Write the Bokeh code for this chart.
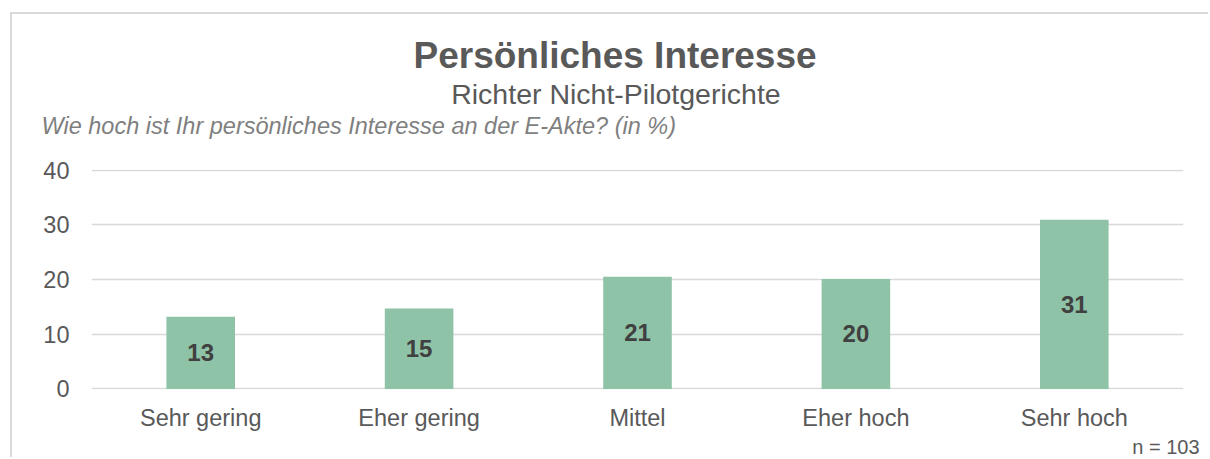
from bokeh.plotting import figure
from bokeh.models import (ColumnDataSource, FactorRange, Range1d, FixedTicker,
                          LabelSet, Title)
from bokeh.core.properties import value
from bokeh.embed import file_html
from bokeh.resources import INLINE

# ---- data ----
categories = ["Sehr gering", "Eher gering", "Mittel", "Eher hoch", "Sehr hoch"]
values = [13.2, 14.7, 20.5, 20.1, 30.9]
value_labels = ["13", "15", "21", "20", "31"]
y_ticks = [0, 10, 20, 30, 40]

title_text = "Persönliches Interesse"
subtitle_text = "Richter Nicht-Pilotgerichte"
question_text = "Wie hoch ist Ihr persönliches Interesse an der E-Akte? (in %)"
n_text = "n = 103"

FONT = "Liberation Sans"
BAR = "#8EC3A7"
GRID = "#d9d9d9"
TXT = "#595959"

source = ColumnDataSource(dict(
    cat=categories,
    val=values,
    mid=[v / 2 for v in values],
    lab=value_labels,
))

p = figure(
    width=1198, height=445,
    x_range=FactorRange(factors=categories, range_padding=0),
    y_range=Range1d(-0.1, 40.1),
    output_backend="svg", toolbar_location=None,
    min_border_left=79, min_border_right=27,
    min_border_top=155, min_border_bottom=70,
    outline_line_color=None, background_fill_color="white",
    border_fill_color="white",
)
# chart border (light grey frame around the whole chart)
p.styles = {
    "margin-left": "10px", "margin-top": "12px",
    "border-left": "2px solid #d9d9d9", "border-top": "2px solid #d9d9d9",
}

p.vbar(x="cat", top="val", width=0.314, source=source,
       fill_color=BAR, line_color=None)

p.add_layout(LabelSet(x="cat", y="mid", text="lab", source=source,
                      text_align="center", text_baseline="middle",
                      text_font=value(FONT), text_font_size="24px",
                      text_font_style="bold", text_color="#404040"))

# titles stacked above the frame (first added = nearest to frame)
p.add_layout(Title(text=" ", text_font_size="1px", standoff=28), "above")
p.add_layout(Title(text=question_text, align="left", offset=-50, standoff=0,
                   text_font=FONT, text_font_size="23.5px",
                   text_font_style="italic", text_color="#7f7f7f"), "above")
p.add_layout(Title(text=subtitle_text, align="left", offset=359.7, standoff=2,
                   text_font=FONT, text_font_size="28.5px",
                   text_font_style="normal", text_color=TXT), "above")
p.add_layout(Title(text=title_text, align="left", offset=322, standoff=-2,
                   text_font=FONT, text_font_size="37px",
                   text_font_style="bold", text_color=TXT), "above")
p.add_layout(Title(text=n_text, align="right", offset=-16, standoff=0,
                   text_font=FONT, text_font_size="20px",
                   text_font_style="normal", text_color=TXT), "below")

# axes
p.yaxis.ticker = FixedTicker(ticks=y_ticks)
p.yaxis.axis_line_color = None
p.yaxis.major_tick_line_color = None
p.yaxis.minor_tick_line_color = None
p.yaxis.major_tick_out = 0
p.yaxis.major_tick_in = 0
p.yaxis.major_label_standoff = 22
p.yaxis.major_label_text_font = FONT
p.yaxis.major_label_text_font_size = "23.5px"
p.yaxis.major_label_text_color = TXT

p.xaxis.axis_line_color = None
p.xaxis.major_tick_line_color = None
p.xaxis.minor_tick_line_color = None
p.xaxis.major_tick_out = 0
p.xaxis.major_tick_in = 0
p.xaxis.major_label_standoff = 15
p.xaxis.major_label_text_font = FONT
p.xaxis.major_label_text_font_size = "23.5px"
p.xaxis.major_label_text_color = TXT

p.xgrid.grid_line_color = None
p.ygrid.grid_line_color = GRID
p.ygrid.grid_line_width = 1.5

open("out.html", "w").write(file_html(p, INLINE))
